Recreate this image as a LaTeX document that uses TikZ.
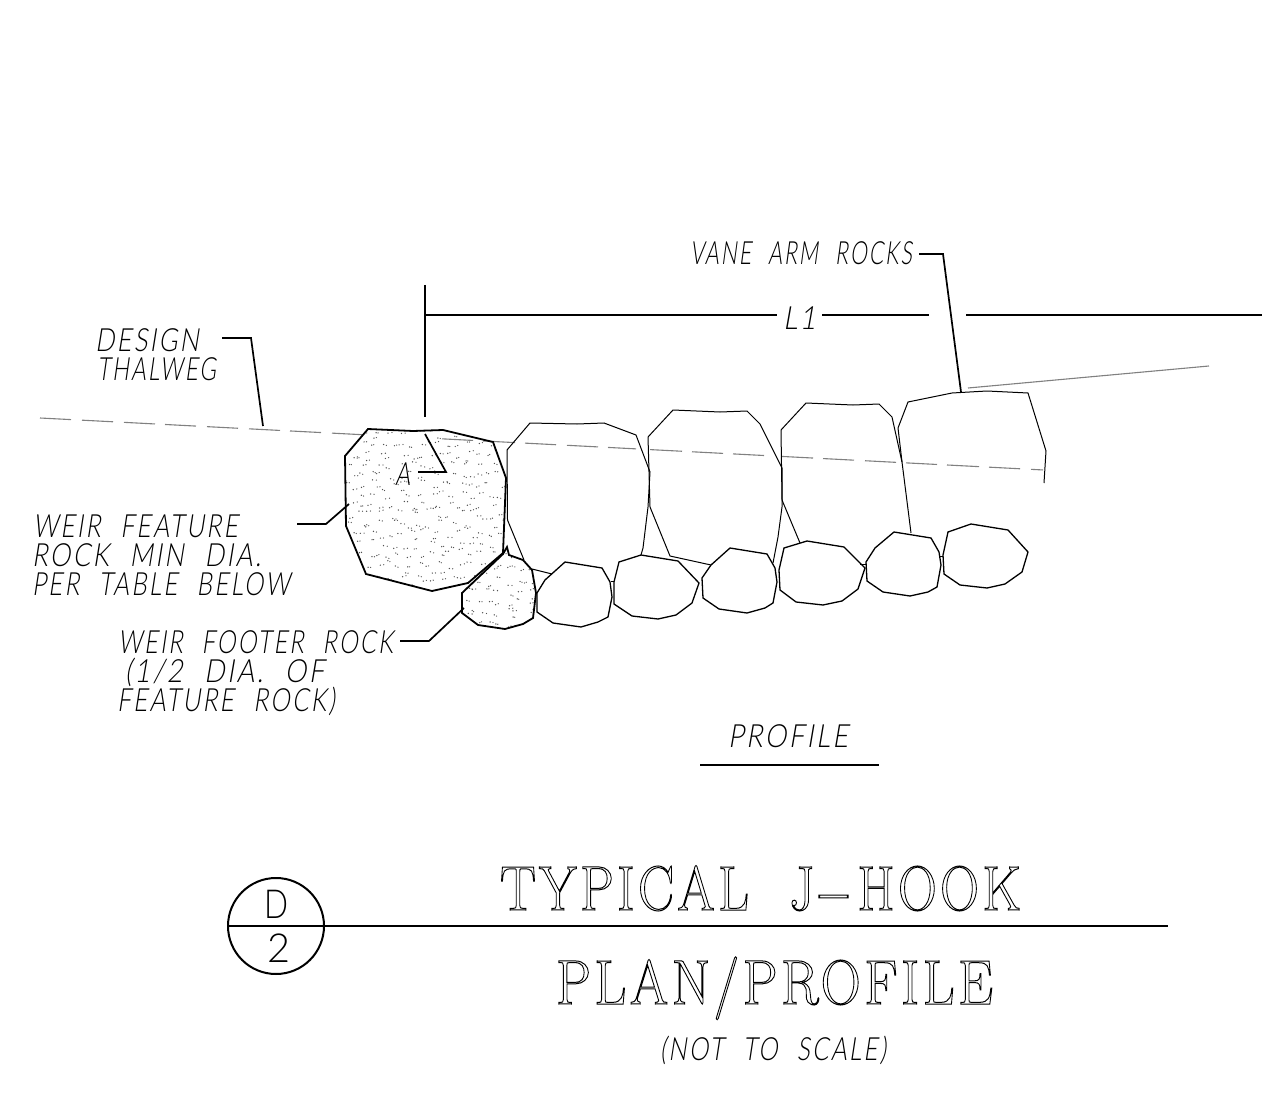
\documentclass[tikz,border=0pt]{standalone}
\usepackage{fontspec}
\usepackage{graphicx}
\newfontfamily\cadfont[LetterSpace=8]{Lato Light}
\newfontfamily\cadital[LetterSpace=9,WordSpace=2.2,FakeSlant=0.2]{Lato Light}
\newfontfamily\romfont[LetterSpace=6]{Latin Modern Roman}
\newcommand{\strokeon}{\special{pdf:code 1 Tr 1 w}}
\newcommand{\strokeoff}{\special{pdf:code 0 Tr}}
\tikzset{
  lbl/.style={anchor=base west,inner sep=0pt,outer sep=0pt,text=black},
  featurerock/.style={draw=black,line width=1.8pt,line join=miter},
  vanerock/.style={draw=black,line width=1pt,line join=miter},
  cobble/.style={draw=black,line width=1.3pt,line join=miter},
  leader/.style={draw=black,line width=1.7pt},
  thin leader/.style={draw=black,line width=1.1pt},
  hairgray/.style={draw=black!50,line width=1.1pt},
  speck/.style={fill=black!68},
}
% name, x, baseline, width, text
\newcommand{\slabel}[5]{\node[lbl,xshift=-2pt] (#1) at (#2,#3) {\resizebox{#4pt}{\height}{\fontsize{32}{32}\cadital #5}};}
\newcommand{\ulabel}[5]{\node[lbl] (#1) at (#2,#3) {\resizebox{#4pt}{\height}{\fontsize{40}{40}\cadfont #5}};}
\newcommand{\rlabel}[6]{\node[lbl] (#1) at (#2,#3) {\resizebox{#4pt}{\height}{\fontsize{#5}{#5}\romfont\strokeon #6\strokeoff}};}
\begin{document}
\begin{tikzpicture}[x=1pt,y=-1pt]
\useasboundingbox (0,0) rectangle (1274,1099);
\fill[white] (0,0) rectangle (1274,1099);

% dashed design thalweg
\foreach \a/\b in {40/71,82/113,124/155,165/196,207/238,249/280,290/321,332/362,
  442/473,483/515,525/556,567/598,608/636,650/682,692/723,733/764,782/813,823/854,
  865/896,906/937,947/979,989/1020,1031/1043}
  \draw[hairgray] ({\a},{418+(\a-40)*0.0518}) -- ({\b},{418+(\b-40)*0.0518});
\draw[hairgray] (968,388) -- (1209,366);

% vane arm rocks
\draw[vanerock] (507,450) -- (530,423) -- (577,424) -- (604,423) -- (636,435) -- (650,472) -- (648,507) -- (643,548) -- (641,555);
\draw[vanerock] (507,450) -- (507.5,520) -- (524,560);
\draw[vanerock] (532,569) -- (552,574);
\draw[vanerock] (648,437) -- (673,410) -- (720,412) -- (747,411) -- (760,424) -- (782,468) -- (782,507) -- (778,537) -- (773,563);
\draw[vanerock] (648,437) -- (650,507) -- (670,556) -- (711,565);
\draw[vanerock] (781,430) -- (806,403) -- (853,405) -- (879,404) -- (892,417) -- (902,462) -- (911,533);
\draw[vanerock] (781,430) -- (782,500) -- (800,543);
\draw[vanerock] (898,428) -- (908,402) -- (952,393) -- (987,391) -- (1028,393) -- (1046,451) -- (1044,483);
\draw[vanerock] (898,428) -- (902,462);
\draw[vanerock] (611,581) -- (614,581);
\draw[vanerock] (860,564) -- (866,564);
\draw[vanerock] (940,556) -- (943,556);

% cobbles
\draw[cobble] (537,593) -- (545,580) -- (565,562) -- (602,568) -- (610,582) -- (612,597) -- (608,617) -- (598,622) -- (581,627) -- (553,623) -- (537,612) -- cycle;
\draw[cobble] (614,582) -- (619,562) -- (641,555) -- (678,561) -- (699,583) -- (692,603) -- (676,615) -- (658,619) -- (632,616) -- (614,604) -- cycle;
\draw[cobble] (711,565) -- (730,548) -- (767,554) -- (775,568) -- (777,582) -- (773,603) -- (765,608) -- (747,613) -- (719,609) -- (703,598) -- (702,578) -- cycle;
\draw[cobble] (784,548) -- (807,541) -- (844,547) -- (865,568) -- (858,589) -- (842,601) -- (823,605) -- (796,602) -- (780,590) -- (779,570) -- cycle;
\draw[cobble] (866,562) -- (875,548) -- (894,532) -- (931,538) -- (939,552) -- (941,565) -- (937,587) -- (928,592) -- (910,596) -- (883,592) -- (867,581) -- cycle;
\draw[cobble] (948,532) -- (971,524) -- (1008,530) -- (1028,552) -- (1022,572) -- (1005,584) -- (987,588) -- (960,585) -- (944,574) -- (943,555) -- cycle;

% stippled rocks: jittered grid of small two-dot specks
\pgfmathsetseed{4217}
\begin{scope}
\clip (368,429) -- (413,431) -- (443,430) -- (493,442) -- (506,478) -- (503,553) -- (468,583) -- (432,591) -- (366,574) -- (346,526) -- (345,456) -- cycle;
\foreach \gx in {345,355,...,505}{
  \foreach \gy in {429,439,...,589}{
    \pgfmathsetmacro{\px}{\gx+10*rnd}
    \pgfmathsetmacro{\py}{\gy+10*rnd}
    \pgfmathsetmacro{\dx}{1.5+2.5*rnd}
    \pgfmathsetmacro{\dy}{2.4*rnd-1.2}
    \fill[speck] (\px,\py) circle[radius=0.72pt];
    \fill[speck] (\px+\dx,\py+\dy) circle[radius=0.65pt];
  }
}
\end{scope}
\begin{scope}
\clip (503,554) -- (507,547) -- (509,555) -- (523,560) -- (532,570) -- (536,593) -- (533,618) -- (523,624) -- (505,629) -- (478,625) -- (462,613) -- (462,593) -- cycle;
\foreach \gx in {462,472,...,532}{
  \foreach \gy in {547,557,...,627}{
    \pgfmathsetmacro{\px}{\gx+10*rnd}
    \pgfmathsetmacro{\py}{\gy+10*rnd}
    \pgfmathsetmacro{\dx}{1.5+2.5*rnd}
    \pgfmathsetmacro{\dy}{2.4*rnd-1.2}
    \fill[speck] (\px,\py) circle[radius=0.72pt];
    \fill[speck] (\px+\dx,\py+\dy) circle[radius=0.65pt];
  }
}
\end{scope}
\draw[featurerock] (368,429) -- (413,431) -- (443,430) -- (493,442) -- (506,478) -- (503,553) -- (468,583) -- (432,591) -- (366,574) -- (346,526) -- (345,456) -- cycle;
\draw[featurerock] (503,554) -- (507,547) -- (509,555) -- (523,560) -- (532,570) -- (536,593) -- (533,618) -- (523,624) -- (505,629) -- (478,625) -- (462,613) -- (462,593) -- cycle;

% dimension and leaders
\draw[thin leader] (425,285) -- (425,417);
\draw[thin leader] (425,315) -- (777,315);
\draw[thin leader] (822,315) -- (929,315);
\draw[thin leader] (966,315) -- (1262,315);
\draw[leader] (425,434) -- (446,472) -- (418,472);
\draw[leader] (222,338) -- (251,338) -- (263,426);
\draw[leader] (919,254) -- (943,254) -- (961,392);
\draw[leader] (297,524) -- (326,524) -- (349,504);
\draw[leader] (400,641) -- (429,641) -- (464,608);
\draw[thin leader] (700,765) -- (879,765);

% title symbol
\draw[line width=2pt] (276,926) circle[radius=48pt];
\draw[line width=1.8pt] (228,926) -- (1168,926);

% labels
\slabel{design}{97}{351}{104}{DESIGN}
\slabel{thalweg}{99}{380}{119}{THALWEG}
\slabel{vane}{692}{265}{222}{VANE ARM ROCKS}
\slabel{lone}{785}{330}{33}{L1}
\slabel{aa}{397}{485}{15}{A}
\slabel{wf1}{35}{537}{205}{WEIR FEATURE}
\slabel{wf2}{34}{566}{229}{ROCK MIN DIA.}
\slabel{wf3}{34}{595}{258}{PER TABLE BELOW}
\slabel{wo1}{120}{653}{275}{WEIR FOOTER ROCK}
\slabel{wo2}{127}{682}{199}{(1/2 DIA. OF}
\slabel{wo3}{119}{711}{218}{FEATURE ROCK)}
\slabel{prof}{730}{747}{120}{PROFILE}
\slabel{nts}{662}{1060}{226}{(NOT TO SCALE)}
\ulabel{dd}{264}{918}{24}{D}
\ulabel{tt}{267}{962}{23}{2}
\rlabel{t1}{500}{910}{521}{63}{TYPICAL\hspace{24pt} J\hspace{5pt}\resizebox{40pt}{\height}{-}\hspace{5pt}HOOK}
\rlabel{t2}{556}{1004}{437}{63}{PLAN/PROFILE}
\end{tikzpicture}
\end{document}
